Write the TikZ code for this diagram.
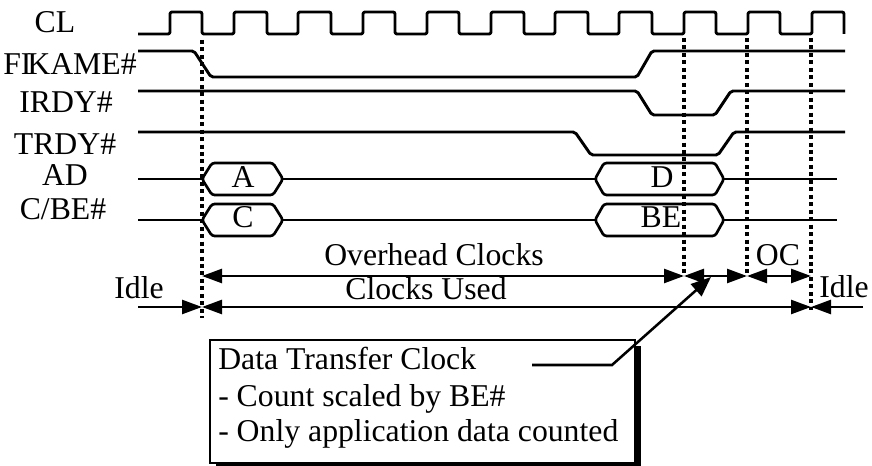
\documentclass[tikz,border=0pt]{standalone}
\usepackage{fontspec}
\setmainfont{Liberation Serif}
\usetikzlibrary{arrows.meta}
\begin{document}
\begin{tikzpicture}[x=0.75pt,y=-0.75pt,
  >={Triangle[length=15pt,width=10.5pt]},
  sig/.style={line width=2.2pt, line join=round, rounded corners=1.5pt},
  bus/.style={line width=2pt, line join=round, rounded corners=2pt},
  guide/.style={line width=2.4pt, dash pattern=on 3pt off 2.6pt},
  dim/.style={line width=1.9pt},
  lbl/.style={font=\fontsize{23.8}{28}\selectfont, inner sep=0pt, anchor=base},
  boxtxt/.style={lbl, anchor=base west},
]
\useasboundingbox[fill=white] (0,0) rectangle (872,466);

% signal names
\node[lbl] (nCL) at (55,33) {CL};
\node[lbl] (nFR) at (70,75) {F\rlap{I}\kern0.2em KAME\#};
\node[lbl] (nIR) at (66,113) {IRDY\#};
\node[lbl] (nTR) at (65,155) {TRDY\#};
\node[lbl] (nAD) at (65,186) {AD};
\node[lbl] (nCB) at (63,220) {C/BE\#};

% clock
\draw[sig] (138,34)
  -- (170,34) -- (170,12) -- (202,12) -- (202,34)
  -- (234,34) -- (234,12) -- (267,12) -- (267,34)
  -- (298,34) -- (298,12) -- (331,12) -- (331,34)
  -- (363,34) -- (363,12) -- (395,12) -- (395,34)
  -- (427,34) -- (427,12) -- (459,12) -- (459,34)
  -- (491,34) -- (491,12) -- (524,12) -- (524,34)
  -- (555,34) -- (555,12) -- (588,12) -- (588,34)
  -- (619,34) -- (619,12) -- (652,12) -- (652,34)
  -- (684,34) -- (684,12) -- (716,12) -- (716,34)
  -- (748,34) -- (748,12) -- (780,12) -- (780,34)
  -- (812,34) -- (812,12) -- (844,12) -- (844,34);

% control signals
\draw[sig] (138,51) -- (194,51) -- (211,77) -- (637,77) -- (652,51) -- (845,51);
\draw[sig] (138,91) -- (637,91) -- (652,115) -- (715,115) -- (731,91) -- (845,91);
\draw[sig] (138,132) -- (575,132) -- (591,155) -- (718,155) -- (734,132) -- (845,132);

% AD bus
\draw[sig] (138,179) -- (202,179);
\draw[bus] (202,179) -- (212,163) -- (273,163) -- (283,179) -- (273,195) -- (212,195) -- cycle;
\node[lbl] (bA) at (243,188) {A};
\draw[sig] (283,179) -- (595,179);
\draw[bus] (595,179) -- (604,163) -- (715,163) -- (724,179) -- (715,195) -- (604,195) -- cycle;
\node[lbl] (bD) at (662,188) {D};
\draw[sig] (724,179) -- (837,179);

% C/BE# bus
\draw[sig] (138,220) -- (202,220);
\draw[bus] (202,220) -- (212,204) -- (273,204) -- (283,220) -- (273,236) -- (212,236) -- cycle;
\node[lbl] (bC) at (243,228) {C};
\draw[sig] (283,220) -- (595,220);
\draw[bus] (595,220) -- (604,204) -- (715,204) -- (724,220) -- (715,236) -- (604,236) -- cycle;
\node[lbl] (bBE) at (661,228) {BE};
\draw[sig] (724,220) -- (837,220);

% clock edge markers
\draw[guide] (202,40) -- (202,318);
\draw[guide] (684,38) -- (684,276);
\draw[guide] (747,38) -- (747,276);
\draw[guide] (811,38) -- (811,310);

% interval arrows
\coordinate (o1) at (202,276);
\coordinate (o2) at (684,276);
\coordinate (o3) at (747,276);
\coordinate (o4) at (811,276);
\draw[dim,<->] (o1) -- (o2);
\draw[dim,<->] (o2) -- (o3);
\draw[dim,<->] (o3) -- (o4);
\node[lbl] (tOH) at (434,266) {Overhead Clocks};
\node[lbl] (tOC) at (778,266) {OC};

\coordinate (i0) at (138,307);
\coordinate (i1) at (202,307);
\coordinate (i2) at (811,307);
\coordinate (i3) at (863,307);
\draw[dim,->] (i0) -- (i1);
\draw[dim,<->] (i1) -- (i2);
\draw[dim,->] (i3) -- (i2);
\node[lbl] (tIdL) at (139,299) {Idle};
\node[lbl] (tCU) at (426,300) {Clocks Used};
\node[lbl] (tIdR) at (844,298) {Idle};

% callout box with shadow
\fill[black] (216,346) rectangle (641,470);
\draw[line width=1.8pt, fill=white] (210,340) rectangle (635,463);
\node[boxtxt] (c1) at (218,370) {Data Transfer Clock};
\node[boxtxt] (c2) at (218,407) {- Count scaled by BE\#};
\node[boxtxt] (c3) at (218,442) {- Only application data counted};
\coordinate (lead) at (532,365);
\coordinate (dt) at (711,277);
\draw[line width=1.9pt, -{Triangle[length=15pt,width=12pt]}] (lead) -- (612,365) -- (dt);
\end{tikzpicture}
\end{document}
